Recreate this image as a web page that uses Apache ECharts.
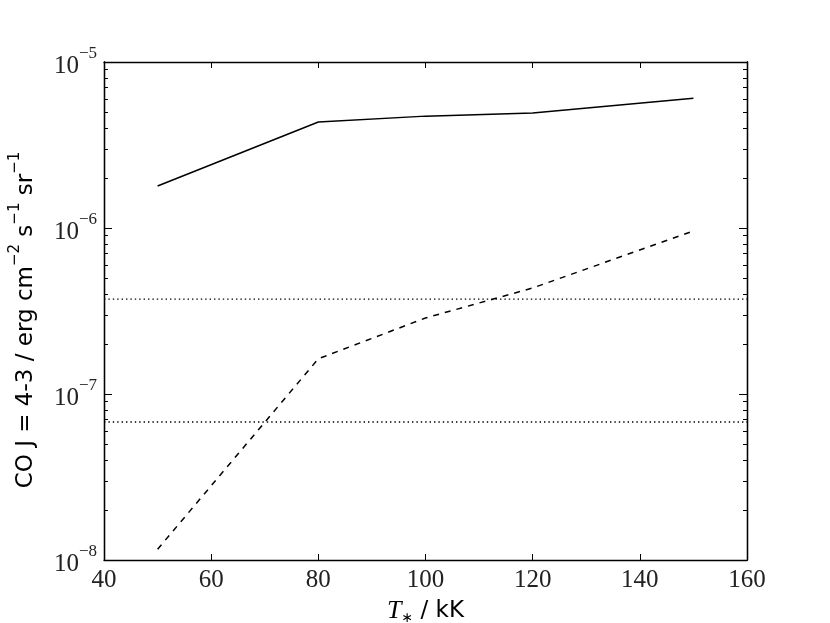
<!DOCTYPE html>
<html>
<head>
<meta charset="utf-8">
<script src="https://cdn.jsdelivr.net/npm/echarts@6/dist/echarts.min.js"></script>
<style>
  html, body { margin: 0; padding: 0; background: #fff; }
  #main { width: 830px; height: 623px; }
</style>
</head>
<body>
<div id="main"></div>
<script>
// temperatures T* (kK)
var temps = [50, 80, 100, 120, 150];
// CO J=4-3 intensities
var solidVals = [1.79e-6, 4.35e-6, 4.72e-6, 4.93e-6, 6.05e-6];
var dashedVals = [1.16e-8, 1.63e-7, 2.87e-7, 4.35e-7, 9.6e-7];
// horizontal reference levels
var levels = [3.73e-7, 6.78e-8];
var xTicks = [40, 60, 80, 100, 120, 140, 160];
var yMajor = [1e-8, 1e-7, 1e-6, 1e-5];
var yMinor = [];
[1e-8, 1e-7, 1e-6].forEach(function (d) {
  for (var k = 2; k <= 9; k++) yMinor.push(k * d);
});

var serif = 'Liberation Serif';
var sans = 'DejaVu Sans';

var chart = echarts.init(document.getElementById('main'));

function pow10Label(v) {
  var e = Math.round(Math.log10(v));
  return '{b|10}{s|' + (e < 0 ? '\u2212' : '') + Math.abs(e) + '}';
}

var baseY = {
  type: 'log', logBase: 10, min: 1e-8, max: 1e-5,
  splitLine: { show: false },
  axisLine: { show: true, lineStyle: { color: '#000', width: 1.3 } }
};

function yAxisDef(pos, minor) {
  var ax = Object.assign({}, baseY, {
    position: pos,
    axisTick: {
      show: true, inside: true, length: minor ? 4 : 8,
      lineStyle: { color: '#000', width: 1 },
      customValues: minor ? yMinor : yMajor
    },
    axisLabel: { show: false }
  });
  if (pos === 'left' && !minor) {
    ax.axisLabel = {
      show: true, margin: 7, customValues: yMajor,
      formatter: pow10Label,
      rich: {
        b: { fontFamily: serif, fontSize: 25, color: '#222', lineHeight: 34, verticalAlign: 'bottom' },
        s: { fontFamily: serif, fontSize: 17, color: '#222', lineHeight: 34, verticalAlign: 'top' }
      }
    };
    ax.name = '{t|CO J = 4-3 / erg cm}{s|\u22122}{t| s}{s|\u22121}{t| sr}{s|\u22121}';
    ax.nameLocation = 'middle';
    ax.nameGap = 66;
    ax.nameRotate = 90;
    ax.nameTextStyle = {
      padding: [0, 18, 0, 0],
      rich: {
        t: { fontFamily: sans, fontSize: 23, color: '#000', lineHeight: 30, verticalAlign: 'bottom' },
        s: { fontFamily: sans, fontSize: 15, color: '#000', lineHeight: 30, verticalAlign: 'top' }
      }
    };
  }
  return ax;
}

function xAxisDef(pos) {
  var ax = {
    type: 'value', position: pos, min: 40, max: 160, interval: 20,
    splitLine: { show: false },
    axisLine: { show: true, onZero: false, lineStyle: { color: '#000', width: 1.3 } },
    axisTick: { show: true, inside: true, length: 6, lineStyle: { color: '#000', width: 1 } },
    axisLabel: { show: false }
  };
  if (pos === 'bottom') {
    ax.axisLabel = { show: true, margin: 8, fontFamily: serif, fontSize: 25, color: '#222' };
    ax.name = '{i|T}{sub|\u2217}{t| / kK}';
    ax.nameLocation = 'middle';
    ax.nameGap = 30;
    ax.nameTextStyle = {
      rich: {
        i: { fontFamily: serif, fontStyle: 'italic', fontSize: 26, color: '#000', lineHeight: 28, verticalAlign: 'middle' },
        sub: { fontFamily: sans, fontSize: 14, color: '#000', lineHeight: 28, verticalAlign: 'bottom' },
        t: { fontFamily: sans, fontSize: 23, color: '#000', lineHeight: 28, verticalAlign: 'middle' }
      }
    };
  }
  return ax;
}

var series = [
  {
    type: 'line', xAxisIndex: 0, yAxisIndex: 0, symbol: 'none',
    data: temps.map(function (t, i) { return [t, solidVals[i]]; }),
    lineStyle: { color: '#000', width: 1.5, type: 'solid' }
  },
  {
    type: 'line', xAxisIndex: 0, yAxisIndex: 0, symbol: 'none',
    data: temps.map(function (t, i) { return [t, dashedVals[i]]; }),
    lineStyle: { color: '#000', width: 1.5, type: [6, 6] }
  }
];
levels.forEach(function (v) {
  series.push({
    type: 'line', xAxisIndex: 0, yAxisIndex: 0, symbol: 'none',
    data: [[xTicks[0], v], [xTicks[xTicks.length - 1], v]],
    lineStyle: { color: '#000', width: 1.4, type: [1.4, 3] }
  });
});

chart.setOption({
  backgroundColor: '#fff',
  animation: false,
  grid: { left: 104, right: 83, top: 62, bottom: 63, containLabel: false, outerBoundsMode: 'none' },
  xAxis: [xAxisDef('bottom'), xAxisDef('top')],
  yAxis: [yAxisDef('left', false), yAxisDef('left', true), yAxisDef('right', false), yAxisDef('right', true)],
  series: series
});
</script>
</body>
</html>
